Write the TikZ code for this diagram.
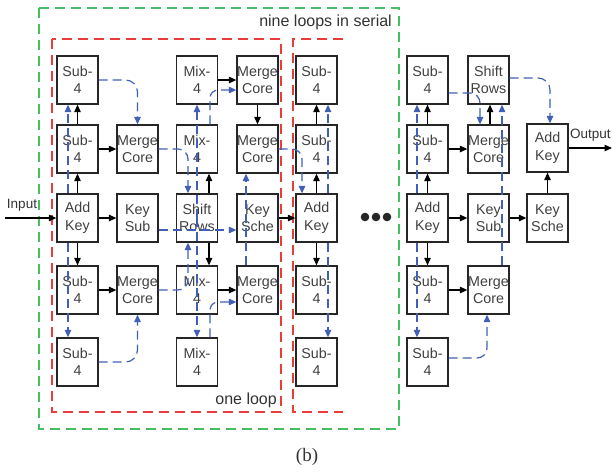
\documentclass[tikz,border=0pt]{standalone}
\usepackage{fontspec}
\setmainfont{Liberation Sans}
\newfontfamily\seriffont{Liberation Serif}
\usetikzlibrary{arrows.meta}
\definecolor{gr}{RGB}{70,190,100}
\definecolor{rd}{RGB}{235,60,60}
\definecolor{bl}{RGB}{65,95,185}
\tikzset{
 blk/.style={draw=black!85, line width=1.3pt, minimum width=41pt, minimum height=48pt, inner sep=0pt, align=center, font=\fontsize{14.3}{17.5}\selectfont, text=black!75},
 arr/.style={line width=1.1pt, -{Triangle[length=7.5pt,width=6.5pt]}},
 barr/.style={bl, line width=1.2pt, dash pattern=on 9pt off 5pt, -{Triangle[length=7.5pt,width=6.5pt]}},
 gbox/.style={gr, line width=1.3pt, dash pattern=on 10pt off 6pt},
 rbox/.style={rd, line width=1.3pt, dash pattern=on 10pt off 6pt},
 lbl/.style={font=\fontsize{16}{18}\selectfont, inner sep=0pt, text=black!80},
 iolbl/.style={font=\fontsize{13.5}{16}\selectfont, inner sep=0pt, text=black!80},
}
\begin{document}
\begin{tikzpicture}[x=1pt,y=-1pt]
\useasboundingbox (0,0) rectangle (612,472);
% frames
\draw[gbox] (39,8) rectangle (399,429);
\draw[rbox] (52,39) rectangle (281,412);
\draw[rbox] (343,39) -- (293,39) -- (293,412) -- (343,412);
\node[lbl, anchor=east] (nl) at (392,22) {nine loops in serial};
\node[lbl, anchor=east] (ol) at (277,400) {one loop};
% column 1
\node[blk] (s1) at (77.5,80) {Sub-\\4};
\node[blk] (s2) at (77.5,149) {Sub-\\4};
\node[blk] (ak1) at (77.5,218) {Add\\Key};
\node[blk] (s4) at (77.5,290) {Sub-\\4};
\node[blk] (s5) at (77.5,362) {Sub-\\4};
% column 2
\node[blk] (mc2) at (137.5,149) {Merge\\Core};
\node[blk] (ks1) at (137.5,218) {Key\\Sub};
\node[blk] (mc4) at (137.5,290) {Merge\\Core};
% column 3
\node[blk] (mx1) at (197,80) {Mix-\\4};
\node[blk] (mx2) at (197,149) {Mix-\\4};
\node[blk] (sr) at (197,218) {Shift\\Rows};
\node[blk] (mx4) at (197,290) {Mix-\\4};
\node[blk] (mx5) at (197,362) {Mix-\\4};
% column 4
\node[blk] (m41) at (257.5,80) {Merge\\Core};
\node[blk] (m42) at (257.5,149) {Merge\\Core};
\node[blk] (kc) at (257.5,218) {Key\\Sche};
\node[blk] (m44) at (257.5,290) {Merge\\Core};
% column 5
\node[blk] (t1) at (316.5,80) {Sub-\\4};
\node[blk] (t2) at (316.5,149) {Sub-\\4};
\node[blk] (ak2) at (316.5,218) {Add\\Key};
\node[blk] (t4) at (316.5,290) {Sub-\\4};
\node[blk] (t5) at (316.5,362) {Sub-\\4};
% dots
\fill[black!85] (365,217) circle (4.3pt) (376,217) circle (4.3pt) (387,217) circle (4.3pt);
% column 6
\node[blk] (u1) at (427.5,80) {Sub-\\4};
\node[blk] (u2) at (427.5,149) {Sub-\\4};
\node[blk] (ak3) at (427.5,218) {Add\\Key};
\node[blk] (u4) at (427.5,290) {Sub-\\4};
\node[blk] (u5) at (427.5,362) {Sub-\\4};
% column 7
\node[blk] (srL) at (488.5,80) {Shift\\Rows};
\node[blk] (mL2) at (488.5,149) {Merge\\Core};
\node[blk] (ksL) at (488.5,218) {Key\\Sub};
\node[blk] (mL4) at (488.5,290) {Merge\\Core};
% column 8
\node[blk] (akL) at (547.5,148) {Add\\Key};
\node[blk] (kcL) at (547.5,218) {Key\\Sche};
% io
\coordinate (in) at (5,218);
\coordinate (out) at (612,148);
\node[iolbl] (inl) at (22,205) {Input};
\node[iolbl, anchor=west] (outl) at (570,135) {Output};
% black arrows
\draw[arr] (in) -- (ak1.west);
\draw[arr] (ak1.north) -- (s2.south);
\draw[arr] (s2.north) -- (s1.south);
\draw[arr] (ak1.south) -- (s4.north);
\draw[arr] (s2.east) -- (mc2.west);
\draw[arr] (s4.east) -- (mc4.west);
\draw[arr] (ak1.east) -- (ks1.west);
\draw[arr] ([xshift=12pt]sr.north) -- ([xshift=12pt]mx2.south);
\draw[arr] ([xshift=12pt]sr.south) -- ([xshift=12pt]mx4.north);
\draw[arr] (mx1.east) -- (m41.west);
\draw[arr] (m41.south) -- (m42.north);
\draw[arr] (mx4.east) -- (m44.west);
\draw[arr] (kc.east) -- (ak2.west);
\draw[arr] (ak2.north) -- (t2.south);
\draw[arr] (t2.north) -- (t1.south);
\draw[arr] (ak2.south) -- (t4.north);
\draw[arr] (ak3.north) -- (u2.south);
\draw[arr] (u2.north) -- (u1.south);
\draw[arr] (ak3.south) -- (u4.north);
\draw[arr] (u2.east) -- (mL2.west);
\draw[arr] (u4.east) -- (mL4.west);
\draw[arr] (ak3.east) -- (ksL.west);
\draw[arr] (ksL.east) -- (kcL.west);
\draw[arr] (kcL.north) -- (akL.south);
\draw[arr] ([xshift=1.5pt]mL2.north) -- ([xshift=1.5pt]srL.south);
\draw[arr] (akL.east) -- (out);
% blue dashed arrows, loop 1
\draw[barr] ([xshift=-9.5pt]ak1.north) -- ([xshift=-9.5pt]s1.south);
\draw[barr] ([xshift=-9.5pt]ak1.south) -- ([xshift=-9.5pt]s5.north);
\draw[barr, rounded corners=12pt] (s1.east) -| (mc2.north);
\draw[barr, rounded corners=12pt] (s5.east) -| (mc4.south);
\draw[barr, rounded corners=10pt] (mc2.east) -| ([xshift=-9pt]sr.north);
\draw[barr, rounded corners=10pt] (mc4.east) -| ([xshift=-9pt]sr.south);
\draw[barr] (sr.center) -- (mx1.south);
\draw[barr] (sr.center) -- (mx5.north);
\draw[barr, rounded corners=8pt] ([xshift=13pt]mx2.north) |- ([yshift=-10pt]m41.west);
\draw[barr, rounded corners=8pt] ([xshift=13pt]mx5.north) |- ([yshift=-12pt]m44.west);
\draw[barr] ([yshift=-12pt]ks1.east) -- ([yshift=-12pt]kc.west);
\draw[barr] ([xshift=-11.5pt]m44.north) -- ([xshift=-11.5pt]m42.south);
\draw[barr, rounded corners=10pt] (m42.east) -| ([xshift=-14.5pt]ak2.north);
% loop 2
\draw[barr] ([xshift=11.5pt]ak2.north) -- ([xshift=11.5pt]t1.south);
\draw[barr] ([xshift=11.5pt]ak2.south) -- ([xshift=11.5pt]t5.north);
% last loop
\draw[barr] ([xshift=-10.5pt]ak3.north) -- ([xshift=-10.5pt]u1.south);
\draw[barr] ([xshift=-10.5pt]ak3.south) -- ([xshift=-10.5pt]u5.north);
\draw[barr, rounded corners=10pt] ([yshift=-13pt]u1.east) -| ([xshift=-8.5pt]mL2.north);
\draw[barr, rounded corners=10pt] ([yshift=4pt]u5.east) -| ([xshift=-1.5pt]mL4.south);
\draw[barr] ([xshift=13.5pt]mL4.north) -- ([xshift=13.5pt]srL.south);
\draw[barr, rounded corners=12pt] ([yshift=2pt]srL.east) -| ([xshift=2.5pt]akL.north);
% caption
\node[font=\seriffont\fontsize{19}{22}\selectfont, text=black!80] (cap) at (307,457) {(b)};
\end{tikzpicture}
\end{document}
